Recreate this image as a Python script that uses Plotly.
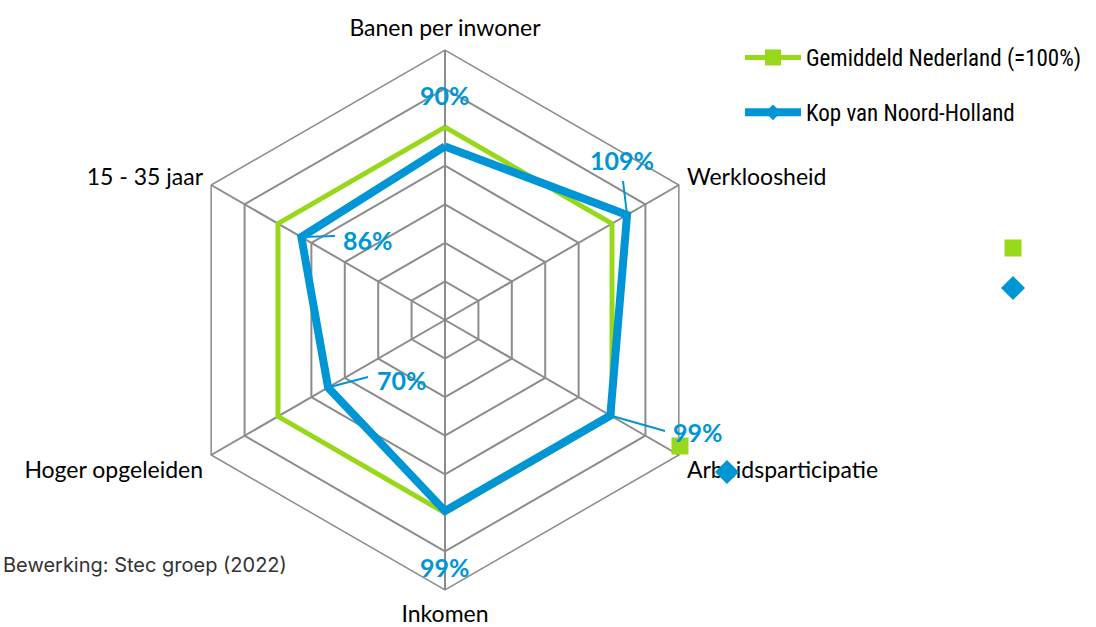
import math
import plotly.graph_objects as go

# Indicator names, clockwise from the top
categories = ["Banen per inwoner", "Werkloosheid", "Arbeidsparticipatie",
              "Inkomen", "Hoger opgeleiden", "15 - 35 jaar"]
nl_values = [100, 100, 100, 100, 100, 100]
kop_values = [90, 109, 99, 99, 70, 86]
series_names = ["Gemiddeld Nederland (=100%)", "Kop van Noord-Holland"]
source_text = "Bewerking: Stec groep (2022)"

GREEN = "#97d81b"
BLUE = "#0096d6"
GRID = "#8c8c8c"

W, H = 1096, 627
CX, CY, RAD = 445, 320, 270
R_MAX = 140


def px(x):
    return x / W


def py(y):
    return 1 - y / H


def vertex(val, i):
    a = math.radians(90 - 60 * i)
    rr = val / R_MAX * RAD
    return CX + rr * math.cos(a), CY - rr * math.sin(a)


theta = categories + categories[:1]

fig = go.Figure()
fig.add_trace(go.Scatterpolar(r=nl_values + nl_values[:1], theta=theta, mode="lines",
                              line=dict(color=GREEN, width=5), showlegend=False,
                              hoverinfo="skip"))
fig.add_trace(go.Scatterpolar(r=kop_values + kop_values[:1], theta=theta, mode="lines",
                              line=dict(color=BLUE, width=8), showlegend=False,
                              hoverinfo="skip"))

# Legend entries (line with marker)
fig.add_trace(go.Scatterpolar(r=[None], theta=[categories[0]], mode="lines+markers",
                              name=series_names[0], legendgroup="a",
                              line=dict(color=GREEN, width=5),
                              marker=dict(symbol="square", size=17, color=GREEN)))
fig.add_trace(go.Scatterpolar(r=[None], theta=[categories[0]], mode="lines+markers",
                              name=series_names[1], legendgroup="b",
                              line=dict(color=BLUE, width=8),
                              marker=dict(symbol="diamond", size=12, color=BLUE)))

# Value labels for Kop van Noord-Holland, with leader lines
label_pos = [(445, 95), (622, 160), (698, 432), (445, 567), (402, 380), (368, 240)]
leader_end = [None, (623, 181), (665, 431), None, (368, 377), (335, 236)]
annotations = []
shapes = []
for i, v in enumerate(kop_values):
    lx, ly = label_pos[i]
    annotations.append(dict(x=px(lx), y=py(ly), xref="paper", yref="paper",
                            xanchor="center", yanchor="middle",
                            text=f"<b>{v}%</b>", showarrow=False,
                            font=dict(family="Lato, Open Sans, sans-serif", size=25, color=BLUE)))
    if leader_end[i] is not None:
        vx, vy = vertex(v, i)
        ex, ey = leader_end[i]
        shapes.append(dict(type="line", xref="paper", yref="paper",
                           x0=px(vx), y0=py(vy), x1=px(ex), y1=py(ey),
                           line=dict(color=BLUE, width=2)))

annotations.append(dict(x=px(1), y=py(565), xref="paper", yref="paper",
                        xanchor="left", yanchor="middle", text=source_text, showarrow=False,
                        font=dict(family="Inter, Roboto, sans-serif", size=20, color="#333333")))


def square(x, y, s, color):
    return dict(type="rect", xref="paper", yref="paper", layer="above",
                x0=px(x - s / 2), x1=px(x + s / 2), y0=py(y + s / 2), y1=py(y - s / 2),
                fillcolor=color, line=dict(width=0))


def diamond(x, y, s, color):
    h = s / 2
    path = (f"M {px(x)} {py(y - h)} L {px(x + h)} {py(y)} "
            f"L {px(x)} {py(y + h)} L {px(x - h)} {py(y)} Z")
    return dict(type="path", xref="paper", yref="paper", layer="above", path=path,
                fillcolor=color, line=dict(width=0))


shapes += [square(1013, 248, 17, GREEN), diamond(1013, 288, 24, BLUE),
           square(680, 446, 17, GREEN), diamond(727, 472, 24, BLUE)]

fig.update_layout(
    width=W, height=H,
    margin=dict(l=0, r=0, t=0, b=0),
    paper_bgcolor="white",
    font=dict(family="Lato, sans-serif", color="black"),
    polar=dict(
        domain=dict(x=[px(CX - RAD), px(CX + RAD)], y=[py(CY + RAD), py(CY - RAD)]),
        bgcolor="white",
        gridshape="linear",
        radialaxis=dict(range=[0, R_MAX], dtick=20, showticklabels=False, ticks="",
                        showline=False, gridcolor=GRID, gridwidth=1.5),
        angularaxis=dict(rotation=90, direction="clockwise", gridcolor=GRID, gridwidth=1.5,
                         showline=True, linecolor=GRID, linewidth=1.5,
                         ticks="outside", ticklen=4, tickcolor="rgba(0,0,0,0)",
                         tickfont=dict(family="Lato, sans-serif", size=23, color="black")),
    ),
    legend=dict(x=px(740), y=py(36), xanchor="left", yanchor="top",
                font=dict(family="Liberation Sans Narrow, Roboto Condensed, Liberation Sans, sans-serif",
                          size=23, color="black"),
                itemwidth=56, tracegroupgap=22, traceorder="grouped",
                bgcolor="rgba(0,0,0,0)"),
    annotations=annotations,
    shapes=shapes,
)

fig.write_html("out.html")
